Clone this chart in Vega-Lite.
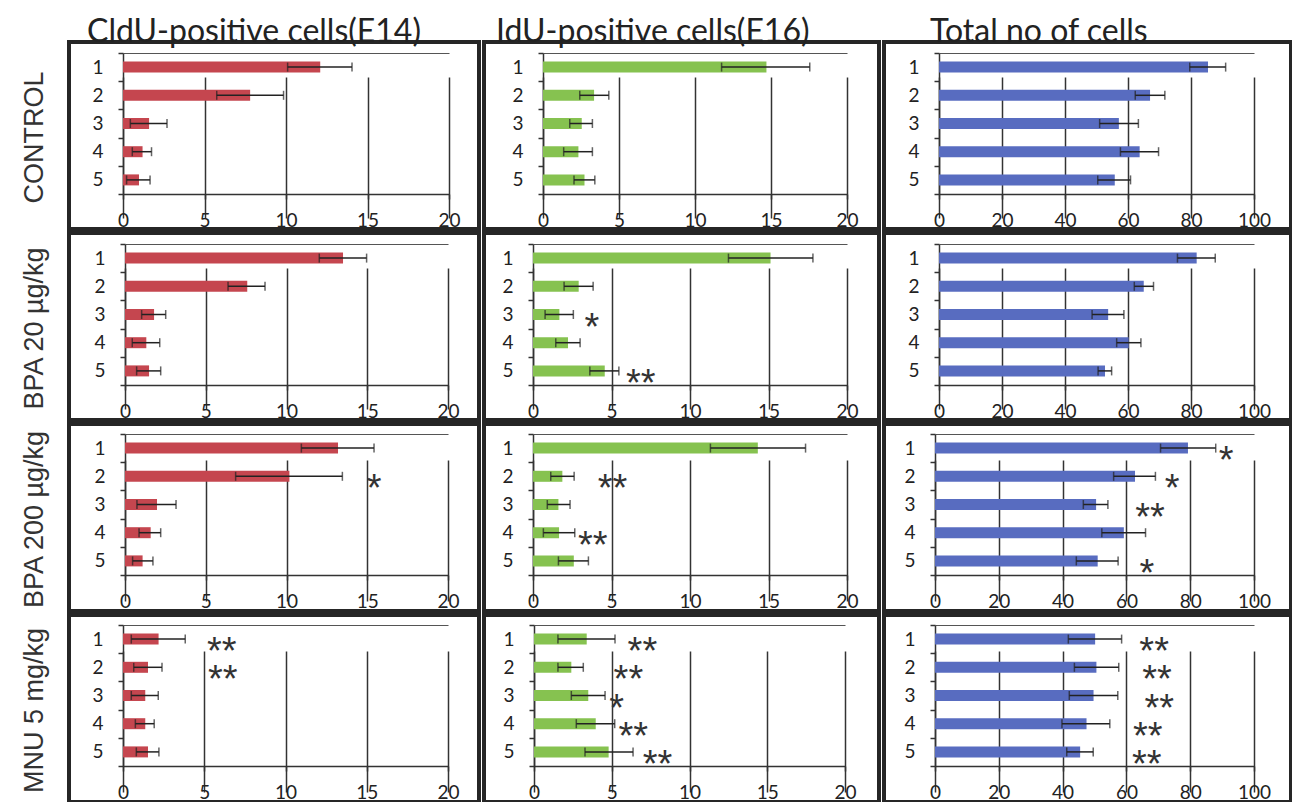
{
"$schema": "https://vega.github.io/schema/vega-lite/v6.json",
"padding": {"left": 17, "top": 14, "right": 0, "bottom": 0},
"bounds": "flush",
"columns": 3,
"spacing": {"row": 4, "column": 5},
"config": {
 "view": {"stroke": "#262626", "strokeWidth": 4},
 "axis": {"labelFont": "Lato", "labelFontSize": 19, "labelColor": "#222", "domainColor": "#333", "domainWidth": 1.5, "tickColor": "#333", "tickWidth": 1.5, "gridColor": "#333", "gridWidth": 1.5, "gridOpacity": 1},
 "title": {"font": "Lato", "fontSize": 32, "fontWeight": "normal", "color": "#222", "anchor": "start", "frame": "group", "offset": -16, "baseline": "alphabetic"}
},
"datasets": {"d": [
{"g":"CONTROL","m":"CldU","c":1,"v":12.1,"lo":10.1,"hi":14.05,"s":"","sx":0},
{"g":"CONTROL","m":"CldU","c":2,"v":7.8,"lo":5.75,"hi":9.85,"s":"","sx":0},
{"g":"CONTROL","m":"CldU","c":3,"v":1.6,"lo":0.45,"hi":2.7,"s":"","sx":0},
{"g":"CONTROL","m":"CldU","c":4,"v":1.2,"lo":0.57,"hi":1.75,"s":"","sx":0},
{"g":"CONTROL","m":"CldU","c":5,"v":0.98,"lo":0.22,"hi":1.66,"s":"","sx":0},
{"g":"CONTROL","m":"IdU","c":1,"v":14.7,"lo":11.75,"hi":17.55,"s":"","sx":0},
{"g":"CONTROL","m":"IdU","c":2,"v":3.36,"lo":2.42,"hi":4.33,"s":"","sx":0},
{"g":"CONTROL","m":"IdU","c":3,"v":2.55,"lo":1.76,"hi":3.25,"s":"","sx":0},
{"g":"CONTROL","m":"IdU","c":4,"v":2.33,"lo":1.36,"hi":3.25,"s":"","sx":0},
{"g":"CONTROL","m":"IdU","c":5,"v":2.73,"lo":2.04,"hi":3.41,"s":"","sx":0},
{"g":"CONTROL","m":"Total","c":1,"v":85.4,"lo":79.6,"hi":91.0,"s":"","sx":0},
{"g":"CONTROL","m":"Total","c":2,"v":67.0,"lo":62.3,"hi":71.7,"s":"","sx":0},
{"g":"CONTROL","m":"Total","c":3,"v":57.1,"lo":51.0,"hi":63.3,"s":"","sx":0},
{"g":"CONTROL","m":"Total","c":4,"v":63.7,"lo":57.6,"hi":69.7,"s":"","sx":0},
{"g":"CONTROL","m":"Total","c":5,"v":55.8,"lo":50.4,"hi":60.8,"s":"","sx":0},
{"g":"BPA20","m":"CldU","c":1,"v":13.5,"lo":12.03,"hi":14.96,"s":"","sx":0},
{"g":"BPA20","m":"CldU","c":2,"v":7.57,"lo":6.38,"hi":8.67,"s":"","sx":0},
{"g":"BPA20","m":"CldU","c":3,"v":1.8,"lo":1.03,"hi":2.52,"s":"","sx":0},
{"g":"BPA20","m":"CldU","c":4,"v":1.32,"lo":0.45,"hi":2.15,"s":"","sx":0},
{"g":"BPA20","m":"CldU","c":5,"v":1.49,"lo":0.72,"hi":2.21,"s":"","sx":0},
{"g":"BPA20","m":"IdU","c":1,"v":15.13,"lo":12.45,"hi":17.83,"s":"","sx":0},
{"g":"BPA20","m":"IdU","c":2,"v":2.91,"lo":1.98,"hi":3.83,"s":"","sx":0},
{"g":"BPA20","m":"IdU","c":3,"v":1.68,"lo":0.77,"hi":2.57,"s":"*","sx":3.75},
{"g":"BPA20","m":"IdU","c":4,"v":2.23,"lo":1.45,"hi":3.0,"s":"","sx":0},
{"g":"BPA20","m":"IdU","c":5,"v":4.57,"lo":3.62,"hi":5.47,"s":"**","sx":6.87},
{"g":"BPA20","m":"Total","c":1,"v":81.8,"lo":75.7,"hi":87.7,"s":"","sx":0},
{"g":"BPA20","m":"Total","c":2,"v":65.0,"lo":62.0,"hi":68.1,"s":"","sx":0},
{"g":"BPA20","m":"Total","c":3,"v":53.7,"lo":48.6,"hi":58.7,"s":"","sx":0},
{"g":"BPA20","m":"Total","c":4,"v":60.2,"lo":56.4,"hi":64.1,"s":"","sx":0},
{"g":"BPA20","m":"Total","c":5,"v":52.7,"lo":50.5,"hi":54.8,"s":"","sx":0},
{"g":"BPA200","m":"CldU","c":1,"v":13.19,"lo":10.92,"hi":15.42,"s":"","sx":0},
{"g":"BPA200","m":"CldU","c":2,"v":10.18,"lo":6.85,"hi":13.46,"s":"*","sx":15.42},
{"g":"BPA200","m":"CldU","c":3,"v":1.98,"lo":0.74,"hi":3.16,"s":"","sx":0},
{"g":"BPA200","m":"CldU","c":4,"v":1.59,"lo":0.87,"hi":2.21,"s":"","sx":0},
{"g":"BPA200","m":"CldU","c":5,"v":1.09,"lo":0.47,"hi":1.73,"s":"","sx":0},
{"g":"BPA200","m":"IdU","c":1,"v":14.32,"lo":11.3,"hi":17.36,"s":"","sx":0},
{"g":"BPA200","m":"IdU","c":2,"v":1.87,"lo":1.13,"hi":2.62,"s":"**","sx":5.07},
{"g":"BPA200","m":"IdU","c":3,"v":1.62,"lo":0.91,"hi":2.36,"s":"","sx":0},
{"g":"BPA200","m":"IdU","c":4,"v":1.66,"lo":0.66,"hi":2.66,"s":"**","sx":3.81},
{"g":"BPA200","m":"IdU","c":5,"v":2.6,"lo":1.62,"hi":3.53,"s":"","sx":0},
{"g":"BPA200","m":"Total","c":1,"v":79.3,"lo":70.7,"hi":88.0,"s":"*","sx":91.3},
{"g":"BPA200","m":"Total","c":2,"v":62.7,"lo":56.0,"hi":69.1,"s":"*","sx":74.3},
{"g":"BPA200","m":"Total","c":3,"v":50.5,"lo":46.5,"hi":54.2,"s":"**","sx":67.4},
{"g":"BPA200","m":"Total","c":4,"v":59.2,"lo":52.3,"hi":66.0,"s":"","sx":0},
{"g":"BPA200","m":"Total","c":5,"v":51.0,"lo":44.3,"hi":57.4,"s":"*","sx":66.4},
{"g":"MNU","m":"CldU","c":1,"v":2.19,"lo":0.51,"hi":3.83,"s":"**","sx":6.08},
{"g":"MNU","m":"CldU","c":2,"v":1.54,"lo":0.66,"hi":2.4,"s":"**","sx":6.14},
{"g":"MNU","m":"CldU","c":3,"v":1.37,"lo":0.51,"hi":2.17,"s":"","sx":0},
{"g":"MNU","m":"CldU","c":4,"v":1.37,"lo":0.76,"hi":1.92,"s":"","sx":0},
{"g":"MNU","m":"CldU","c":5,"v":1.54,"lo":0.82,"hi":2.21,"s":"","sx":0},
{"g":"MNU","m":"IdU","c":1,"v":3.39,"lo":1.54,"hi":5.21,"s":"**","sx":6.97},
{"g":"MNU","m":"IdU","c":2,"v":2.4,"lo":1.54,"hi":3.17,"s":"**","sx":6.07},
{"g":"MNU","m":"IdU","c":3,"v":3.49,"lo":2.4,"hi":4.57,"s":"*","sx":5.32},
{"g":"MNU","m":"IdU","c":4,"v":3.97,"lo":2.72,"hi":5.19,"s":"**","sx":6.39},
{"g":"MNU","m":"IdU","c":5,"v":4.8,"lo":3.28,"hi":6.37,"s":"**","sx":7.94},
{"g":"MNU","m":"Total","c":1,"v":50.2,"lo":41.8,"hi":58.5,"s":"**","sx":68.7},
{"g":"MNU","m":"Total","c":2,"v":50.6,"lo":43.7,"hi":57.6,"s":"**","sx":69.6},
{"g":"MNU","m":"Total","c":3,"v":49.7,"lo":42.1,"hi":57.3,"s":"**","sx":70.3},
{"g":"MNU","m":"Total","c":4,"v":47.5,"lo":39.8,"hi":54.8,"s":"**","sx":66.7},
{"g":"MNU","m":"Total","c":5,"v":45.5,"lo":41.3,"hi":49.6,"s":"**","sx":66.4}
]},
"concat": [
 {"width": 410, "height": 187, "data": {"name": "d"}, "transform": [{"filter": "datum.g=='CONTROL' && datum.m=='CldU'"}],
  "title": {"text": "CldU-positive cells(E14)", "dx": 18},
  "encoding": {"y": {"field": "c", "type": "ordinal", "scale": {"range": [11, 152], "paddingInner": 0, "paddingOuter": 0}, "axis": {"offset": -54, "tickBand": "extent", "tickSize": 5, "labelPadding": 15, "labelAngle": 0, "grid": false, "title": "CONTROL", "titleX": -89, "titleY": 95, "titleAngle": -90, "titleFont": "Liberation Sans", "titleFontSize": 27, "titleFontWeight": "normal", "titleColor": "#333", "titleAlign": "center", "titleBaseline": "middle"}}},
  "layer": [
   {"mark": {"type": "bar", "size": 11, "color": "#c5464f"}, "encoding": {"x": {"field": "v", "type": "quantitative", "scale": {"domain": [0, 20], "range": [54, 380], "nice": false}, "axis": {"values": [0,5,10,15,20], "offset": -35, "grid": true, "tickSize": 5, "labelPadding": 12, "labelFlush": false, "title": null}}}},
   {"mark": {"type": "rule", "color": "#222", "strokeWidth": 1.5}, "encoding": {"x": {"field": "lo", "type": "quantitative", "axis": {"orient": "top", "offset": -11, "labels": false, "ticks": false, "grid": false, "title": null, "domainColor": "#555", "domainWidth": 1.2}}, "x2": {"field": "hi"}}},
   {"mark": {"type": "tick", "color": "#222", "thickness": 1.5, "size": 9}, "encoding": {"x": {"field": "lo", "type": "quantitative", "axis": null}}},
   {"mark": {"type": "tick", "color": "#222", "thickness": 1.5, "size": 9}, "encoding": {"x": {"field": "hi", "type": "quantitative", "axis": null}}},
   {"transform": [{"filter": "datum.s != ''"}], "mark": {"type": "text", "font": "Liberation Sans", "fontSize": 38, "baseline": "alphabetic", "dy": 25, "align": "center", "color": "#333"}, "encoding": {"x": {"field": "sx", "type": "quantitative", "axis": null}, "text": {"field": "s"}}}
  ],
  "resolve": {"axis": {"x": "independent"}}},
 {"width": 395, "height": 187, "data": {"name": "d"}, "transform": [{"filter": "datum.g=='CONTROL' && datum.m=='IdU'"}],
  "title": {"text": "IdU-positive cells(E16)", "dx": 12},
  "encoding": {"y": {"field": "c", "type": "ordinal", "scale": {"range": [11, 152], "paddingInner": 0, "paddingOuter": 0}, "axis": {"offset": -59, "tickBand": "extent", "tickSize": 5, "labelPadding": 15, "labelAngle": 0, "grid": false, "title": null}}},
  "layer": [
   {"mark": {"type": "bar", "size": 11, "color": "#86c250"}, "encoding": {"x": {"field": "v", "type": "quantitative", "scale": {"domain": [0, 20], "range": [59, 363], "nice": false}, "axis": {"values": [0,5,10,15,20], "offset": -35, "grid": true, "tickSize": 5, "labelPadding": 12, "labelFlush": false, "title": null}}}},
   {"mark": {"type": "rule", "color": "#222", "strokeWidth": 1.5}, "encoding": {"x": {"field": "lo", "type": "quantitative", "axis": {"orient": "top", "offset": -11, "labels": false, "ticks": false, "grid": false, "title": null, "domainColor": "#555", "domainWidth": 1.2}}, "x2": {"field": "hi"}}},
   {"mark": {"type": "tick", "color": "#222", "thickness": 1.5, "size": 9}, "encoding": {"x": {"field": "lo", "type": "quantitative", "axis": null}}},
   {"mark": {"type": "tick", "color": "#222", "thickness": 1.5, "size": 9}, "encoding": {"x": {"field": "hi", "type": "quantitative", "axis": null}}},
   {"transform": [{"filter": "datum.s != ''"}], "mark": {"type": "text", "font": "Liberation Sans", "fontSize": 38, "baseline": "alphabetic", "dy": 25, "align": "center", "color": "#333"}, "encoding": {"x": {"field": "sx", "type": "quantitative", "axis": null}, "text": {"field": "s"}}}
  ],
  "resolve": {"axis": {"x": "independent"}}},
 {"width": 407, "height": 187, "data": {"name": "d"}, "transform": [{"filter": "datum.g=='CONTROL' && datum.m=='Total'"}],
  "title": {"text": "Total no of cells", "dx": 46},
  "encoding": {"y": {"field": "c", "type": "ordinal", "scale": {"range": [11, 152], "paddingInner": 0, "paddingOuter": 0}, "axis": {"offset": -55, "tickBand": "extent", "tickSize": 5, "labelPadding": 15, "labelAngle": 0, "grid": false, "title": null}}},
  "layer": [
   {"mark": {"type": "bar", "size": 11, "color": "#586cc0"}, "encoding": {"x": {"field": "v", "type": "quantitative", "scale": {"domain": [0, 100], "range": [55, 370], "nice": false}, "axis": {"values": [0,20,40,60,80,100], "offset": -35, "grid": true, "tickSize": 5, "labelPadding": 12, "labelFlush": false, "title": null}}}},
   {"mark": {"type": "rule", "color": "#222", "strokeWidth": 1.5}, "encoding": {"x": {"field": "lo", "type": "quantitative", "axis": {"orient": "top", "offset": -11, "labels": false, "ticks": false, "grid": false, "title": null, "domainColor": "#555", "domainWidth": 1.2}}, "x2": {"field": "hi"}}},
   {"mark": {"type": "tick", "color": "#222", "thickness": 1.5, "size": 9}, "encoding": {"x": {"field": "lo", "type": "quantitative", "axis": null}}},
   {"mark": {"type": "tick", "color": "#222", "thickness": 1.5, "size": 9}, "encoding": {"x": {"field": "hi", "type": "quantitative", "axis": null}}},
   {"transform": [{"filter": "datum.s != ''"}], "mark": {"type": "text", "font": "Liberation Sans", "fontSize": 38, "baseline": "alphabetic", "dy": 25, "align": "center", "color": "#333"}, "encoding": {"x": {"field": "sx", "type": "quantitative", "axis": null}, "text": {"field": "s"}}}
  ],
  "resolve": {"axis": {"x": "independent"}}},
 {"width": 410, "height": 187, "data": {"name": "d"}, "transform": [{"filter": "datum.g=='BPA20' && datum.m=='CldU'"}],
  "encoding": {"y": {"field": "c", "type": "ordinal", "scale": {"range": [11, 152], "paddingInner": 0, "paddingOuter": 0}, "axis": {"offset": -56, "tickBand": "extent", "tickSize": 5, "labelPadding": 15, "labelAngle": 0, "grid": false, "title": "BPA 20 µg/kg", "titleX": -91, "titleY": 95, "titleAngle": -90, "titleFont": "Liberation Sans", "titleFontSize": 27, "titleFontWeight": "normal", "titleColor": "#333", "titleAlign": "center", "titleBaseline": "middle"}}},
  "layer": [
   {"mark": {"type": "bar", "size": 11, "color": "#c5464f"}, "encoding": {"x": {"field": "v", "type": "quantitative", "scale": {"domain": [0, 20], "range": [56, 379], "nice": false}, "axis": {"values": [0,5,10,15,20], "offset": -35, "grid": true, "tickSize": 5, "labelPadding": 12, "labelFlush": false, "title": null}}}},
   {"mark": {"type": "rule", "color": "#222", "strokeWidth": 1.5}, "encoding": {"x": {"field": "lo", "type": "quantitative", "axis": {"orient": "top", "offset": -11, "labels": false, "ticks": false, "grid": false, "title": null, "domainColor": "#555", "domainWidth": 1.2}}, "x2": {"field": "hi"}}},
   {"mark": {"type": "tick", "color": "#222", "thickness": 1.5, "size": 9}, "encoding": {"x": {"field": "lo", "type": "quantitative", "axis": null}}},
   {"mark": {"type": "tick", "color": "#222", "thickness": 1.5, "size": 9}, "encoding": {"x": {"field": "hi", "type": "quantitative", "axis": null}}},
   {"transform": [{"filter": "datum.s != ''"}], "mark": {"type": "text", "font": "Liberation Sans", "fontSize": 38, "baseline": "alphabetic", "dy": 25, "align": "center", "color": "#333"}, "encoding": {"x": {"field": "sx", "type": "quantitative", "axis": null}, "text": {"field": "s"}}}
  ],
  "resolve": {"axis": {"x": "independent"}}},
 {"width": 395, "height": 187, "data": {"name": "d"}, "transform": [{"filter": "datum.g=='BPA20' && datum.m=='IdU'"}],
  "encoding": {"y": {"field": "c", "type": "ordinal", "scale": {"range": [11, 152], "paddingInner": 0, "paddingOuter": 0}, "axis": {"offset": -49, "tickBand": "extent", "tickSize": 5, "labelPadding": 15, "labelAngle": 0, "grid": false, "title": null}}},
  "layer": [
   {"mark": {"type": "bar", "size": 11, "color": "#86c250"}, "encoding": {"x": {"field": "v", "type": "quantitative", "scale": {"domain": [0, 20], "range": [49, 363], "nice": false}, "axis": {"values": [0,5,10,15,20], "offset": -35, "grid": true, "tickSize": 5, "labelPadding": 12, "labelFlush": false, "title": null}}}},
   {"mark": {"type": "rule", "color": "#222", "strokeWidth": 1.5}, "encoding": {"x": {"field": "lo", "type": "quantitative", "axis": {"orient": "top", "offset": -11, "labels": false, "ticks": false, "grid": false, "title": null, "domainColor": "#555", "domainWidth": 1.2}}, "x2": {"field": "hi"}}},
   {"mark": {"type": "tick", "color": "#222", "thickness": 1.5, "size": 9}, "encoding": {"x": {"field": "lo", "type": "quantitative", "axis": null}}},
   {"mark": {"type": "tick", "color": "#222", "thickness": 1.5, "size": 9}, "encoding": {"x": {"field": "hi", "type": "quantitative", "axis": null}}},
   {"transform": [{"filter": "datum.s != ''"}], "mark": {"type": "text", "font": "Liberation Sans", "fontSize": 38, "baseline": "alphabetic", "dy": 25, "align": "center", "color": "#333"}, "encoding": {"x": {"field": "sx", "type": "quantitative", "axis": null}, "text": {"field": "s"}}}
  ],
  "resolve": {"axis": {"x": "independent"}}},
 {"width": 407, "height": 187, "data": {"name": "d"}, "transform": [{"filter": "datum.g=='BPA20' && datum.m=='Total'"}],
  "encoding": {"y": {"field": "c", "type": "ordinal", "scale": {"range": [11, 152], "paddingInner": 0, "paddingOuter": 0}, "axis": {"offset": -55, "tickBand": "extent", "tickSize": 5, "labelPadding": 15, "labelAngle": 0, "grid": false, "title": null}}},
  "layer": [
   {"mark": {"type": "bar", "size": 11, "color": "#586cc0"}, "encoding": {"x": {"field": "v", "type": "quantitative", "scale": {"domain": [0, 100], "range": [55, 370], "nice": false}, "axis": {"values": [0,20,40,60,80,100], "offset": -35, "grid": true, "tickSize": 5, "labelPadding": 12, "labelFlush": false, "title": null}}}},
   {"mark": {"type": "rule", "color": "#222", "strokeWidth": 1.5}, "encoding": {"x": {"field": "lo", "type": "quantitative", "axis": {"orient": "top", "offset": -11, "labels": false, "ticks": false, "grid": false, "title": null, "domainColor": "#555", "domainWidth": 1.2}}, "x2": {"field": "hi"}}},
   {"mark": {"type": "tick", "color": "#222", "thickness": 1.5, "size": 9}, "encoding": {"x": {"field": "lo", "type": "quantitative", "axis": null}}},
   {"mark": {"type": "tick", "color": "#222", "thickness": 1.5, "size": 9}, "encoding": {"x": {"field": "hi", "type": "quantitative", "axis": null}}},
   {"transform": [{"filter": "datum.s != ''"}], "mark": {"type": "text", "font": "Liberation Sans", "fontSize": 38, "baseline": "alphabetic", "dy": 25, "align": "center", "color": "#333"}, "encoding": {"x": {"field": "sx", "type": "quantitative", "axis": null}, "text": {"field": "s"}}}
  ],
  "resolve": {"axis": {"x": "independent"}}},
 {"width": 410, "height": 187, "data": {"name": "d"}, "transform": [{"filter": "datum.g=='BPA200' && datum.m=='CldU'"}],
  "encoding": {"y": {"field": "c", "type": "ordinal", "scale": {"range": [10, 151], "paddingInner": 0, "paddingOuter": 0}, "axis": {"offset": -56, "tickBand": "extent", "tickSize": 5, "labelPadding": 15, "labelAngle": 0, "grid": false, "title": "BPA 200 µg/kg", "titleX": -91, "titleY": 95, "titleAngle": -90, "titleFont": "Liberation Sans", "titleFontSize": 27, "titleFontWeight": "normal", "titleColor": "#333", "titleAlign": "center", "titleBaseline": "middle"}}},
  "layer": [
   {"mark": {"type": "bar", "size": 11, "color": "#c5464f"}, "encoding": {"x": {"field": "v", "type": "quantitative", "scale": {"domain": [0, 20], "range": [56, 379], "nice": false}, "axis": {"values": [0,5,10,15,20], "offset": -36, "grid": true, "tickSize": 5, "labelPadding": 12, "labelFlush": false, "title": null}}}},
   {"mark": {"type": "rule", "color": "#222", "strokeWidth": 1.5}, "encoding": {"x": {"field": "lo", "type": "quantitative", "axis": {"orient": "top", "offset": -10, "labels": false, "ticks": false, "grid": false, "title": null, "domainColor": "#555", "domainWidth": 1.2}}, "x2": {"field": "hi"}}},
   {"mark": {"type": "tick", "color": "#222", "thickness": 1.5, "size": 9}, "encoding": {"x": {"field": "lo", "type": "quantitative", "axis": null}}},
   {"mark": {"type": "tick", "color": "#222", "thickness": 1.5, "size": 9}, "encoding": {"x": {"field": "hi", "type": "quantitative", "axis": null}}},
   {"transform": [{"filter": "datum.s != ''"}], "mark": {"type": "text", "font": "Liberation Sans", "fontSize": 38, "baseline": "alphabetic", "dy": 25, "align": "center", "color": "#333"}, "encoding": {"x": {"field": "sx", "type": "quantitative", "axis": null}, "text": {"field": "s"}}}
  ],
  "resolve": {"axis": {"x": "independent"}}},
 {"width": 395, "height": 187, "data": {"name": "d"}, "transform": [{"filter": "datum.g=='BPA200' && datum.m=='IdU'"}],
  "encoding": {"y": {"field": "c", "type": "ordinal", "scale": {"range": [10, 151], "paddingInner": 0, "paddingOuter": 0}, "axis": {"offset": -49, "tickBand": "extent", "tickSize": 5, "labelPadding": 15, "labelAngle": 0, "grid": false, "title": null}}},
  "layer": [
   {"mark": {"type": "bar", "size": 11, "color": "#86c250"}, "encoding": {"x": {"field": "v", "type": "quantitative", "scale": {"domain": [0, 20], "range": [49, 363], "nice": false}, "axis": {"values": [0,5,10,15,20], "offset": -36, "grid": true, "tickSize": 5, "labelPadding": 12, "labelFlush": false, "title": null}}}},
   {"mark": {"type": "rule", "color": "#222", "strokeWidth": 1.5}, "encoding": {"x": {"field": "lo", "type": "quantitative", "axis": {"orient": "top", "offset": -10, "labels": false, "ticks": false, "grid": false, "title": null, "domainColor": "#555", "domainWidth": 1.2}}, "x2": {"field": "hi"}}},
   {"mark": {"type": "tick", "color": "#222", "thickness": 1.5, "size": 9}, "encoding": {"x": {"field": "lo", "type": "quantitative", "axis": null}}},
   {"mark": {"type": "tick", "color": "#222", "thickness": 1.5, "size": 9}, "encoding": {"x": {"field": "hi", "type": "quantitative", "axis": null}}},
   {"transform": [{"filter": "datum.s != ''"}], "mark": {"type": "text", "font": "Liberation Sans", "fontSize": 38, "baseline": "alphabetic", "dy": 25, "align": "center", "color": "#333"}, "encoding": {"x": {"field": "sx", "type": "quantitative", "axis": null}, "text": {"field": "s"}}}
  ],
  "resolve": {"axis": {"x": "independent"}}},
 {"width": 407, "height": 187, "data": {"name": "d"}, "transform": [{"filter": "datum.g=='BPA200' && datum.m=='Total'"}],
  "encoding": {"y": {"field": "c", "type": "ordinal", "scale": {"range": [10, 151], "paddingInner": 0, "paddingOuter": 0}, "axis": {"offset": -51, "tickBand": "extent", "tickSize": 5, "labelPadding": 15, "labelAngle": 0, "grid": false, "title": null}}},
  "layer": [
   {"mark": {"type": "bar", "size": 11, "color": "#586cc0"}, "encoding": {"x": {"field": "v", "type": "quantitative", "scale": {"domain": [0, 100], "range": [51, 370], "nice": false}, "axis": {"values": [0,20,40,60,80,100], "offset": -36, "grid": true, "tickSize": 5, "labelPadding": 12, "labelFlush": false, "title": null}}}},
   {"mark": {"type": "rule", "color": "#222", "strokeWidth": 1.5}, "encoding": {"x": {"field": "lo", "type": "quantitative", "axis": {"orient": "top", "offset": -10, "labels": false, "ticks": false, "grid": false, "title": null, "domainColor": "#555", "domainWidth": 1.2}}, "x2": {"field": "hi"}}},
   {"mark": {"type": "tick", "color": "#222", "thickness": 1.5, "size": 9}, "encoding": {"x": {"field": "lo", "type": "quantitative", "axis": null}}},
   {"mark": {"type": "tick", "color": "#222", "thickness": 1.5, "size": 9}, "encoding": {"x": {"field": "hi", "type": "quantitative", "axis": null}}},
   {"transform": [{"filter": "datum.s != ''"}], "mark": {"type": "text", "font": "Liberation Sans", "fontSize": 38, "baseline": "alphabetic", "dy": 25, "align": "center", "color": "#333"}, "encoding": {"x": {"field": "sx", "type": "quantitative", "axis": null}, "text": {"field": "s"}}}
  ],
  "resolve": {"axis": {"x": "independent"}}},
 {"width": 410, "height": 187, "data": {"name": "d"}, "transform": [{"filter": "datum.g=='MNU' && datum.m=='CldU'"}],
  "encoding": {"y": {"field": "c", "type": "ordinal", "scale": {"range": [10, 151], "paddingInner": 0, "paddingOuter": 0}, "axis": {"offset": -54, "tickBand": "extent", "tickSize": 5, "labelPadding": 15, "labelAngle": 0, "grid": false, "title": "MNU 5 mg/kg", "titleX": -89, "titleY": 95, "titleAngle": -90, "titleFont": "Liberation Sans", "titleFontSize": 27, "titleFontWeight": "normal", "titleColor": "#333", "titleAlign": "center", "titleBaseline": "middle"}}},
  "layer": [
   {"mark": {"type": "bar", "size": 11, "color": "#c5464f"}, "encoding": {"x": {"field": "v", "type": "quantitative", "scale": {"domain": [0, 20], "range": [54, 379], "nice": false}, "axis": {"values": [0,5,10,15,20], "offset": -36, "grid": true, "tickSize": 5, "labelPadding": 12, "labelFlush": false, "title": null}}}},
   {"mark": {"type": "rule", "color": "#222", "strokeWidth": 1.5}, "encoding": {"x": {"field": "lo", "type": "quantitative", "axis": {"orient": "top", "offset": -10, "labels": false, "ticks": false, "grid": false, "title": null, "domainColor": "#555", "domainWidth": 1.2}}, "x2": {"field": "hi"}}},
   {"mark": {"type": "tick", "color": "#222", "thickness": 1.5, "size": 9}, "encoding": {"x": {"field": "lo", "type": "quantitative", "axis": null}}},
   {"mark": {"type": "tick", "color": "#222", "thickness": 1.5, "size": 9}, "encoding": {"x": {"field": "hi", "type": "quantitative", "axis": null}}},
   {"transform": [{"filter": "datum.s != ''"}], "mark": {"type": "text", "font": "Liberation Sans", "fontSize": 38, "baseline": "alphabetic", "dy": 25, "align": "center", "color": "#333"}, "encoding": {"x": {"field": "sx", "type": "quantitative", "axis": null}, "text": {"field": "s"}}}
  ],
  "resolve": {"axis": {"x": "independent"}}},
 {"width": 395, "height": 187, "data": {"name": "d"}, "transform": [{"filter": "datum.g=='MNU' && datum.m=='IdU'"}],
  "encoding": {"y": {"field": "c", "type": "ordinal", "scale": {"range": [10, 151], "paddingInner": 0, "paddingOuter": 0}, "axis": {"offset": -50, "tickBand": "extent", "tickSize": 5, "labelPadding": 15, "labelAngle": 0, "grid": false, "title": null}}},
  "layer": [
   {"mark": {"type": "bar", "size": 11, "color": "#86c250"}, "encoding": {"x": {"field": "v", "type": "quantitative", "scale": {"domain": [0, 20], "range": [50, 361], "nice": false}, "axis": {"values": [0,5,10,15,20], "offset": -36, "grid": true, "tickSize": 5, "labelPadding": 12, "labelFlush": false, "title": null}}}},
   {"mark": {"type": "rule", "color": "#222", "strokeWidth": 1.5}, "encoding": {"x": {"field": "lo", "type": "quantitative", "axis": {"orient": "top", "offset": -10, "labels": false, "ticks": false, "grid": false, "title": null, "domainColor": "#555", "domainWidth": 1.2}}, "x2": {"field": "hi"}}},
   {"mark": {"type": "tick", "color": "#222", "thickness": 1.5, "size": 9}, "encoding": {"x": {"field": "lo", "type": "quantitative", "axis": null}}},
   {"mark": {"type": "tick", "color": "#222", "thickness": 1.5, "size": 9}, "encoding": {"x": {"field": "hi", "type": "quantitative", "axis": null}}},
   {"transform": [{"filter": "datum.s != ''"}], "mark": {"type": "text", "font": "Liberation Sans", "fontSize": 38, "baseline": "alphabetic", "dy": 25, "align": "center", "color": "#333"}, "encoding": {"x": {"field": "sx", "type": "quantitative", "axis": null}, "text": {"field": "s"}}}
  ],
  "resolve": {"axis": {"x": "independent"}}},
 {"width": 407, "height": 187, "data": {"name": "d"}, "transform": [{"filter": "datum.g=='MNU' && datum.m=='Total'"}],
  "encoding": {"y": {"field": "c", "type": "ordinal", "scale": {"range": [10, 151], "paddingInner": 0, "paddingOuter": 0}, "axis": {"offset": -51, "tickBand": "extent", "tickSize": 5, "labelPadding": 15, "labelAngle": 0, "grid": false, "title": null}}},
  "layer": [
   {"mark": {"type": "bar", "size": 11, "color": "#586cc0"}, "encoding": {"x": {"field": "v", "type": "quantitative", "scale": {"domain": [0, 100], "range": [51, 370], "nice": false}, "axis": {"values": [0,20,40,60,80,100], "offset": -36, "grid": true, "tickSize": 5, "labelPadding": 12, "labelFlush": false, "title": null}}}},
   {"mark": {"type": "rule", "color": "#222", "strokeWidth": 1.5}, "encoding": {"x": {"field": "lo", "type": "quantitative", "axis": {"orient": "top", "offset": -10, "labels": false, "ticks": false, "grid": false, "title": null, "domainColor": "#555", "domainWidth": 1.2}}, "x2": {"field": "hi"}}},
   {"mark": {"type": "tick", "color": "#222", "thickness": 1.5, "size": 9}, "encoding": {"x": {"field": "lo", "type": "quantitative", "axis": null}}},
   {"mark": {"type": "tick", "color": "#222", "thickness": 1.5, "size": 9}, "encoding": {"x": {"field": "hi", "type": "quantitative", "axis": null}}},
   {"transform": [{"filter": "datum.s != ''"}], "mark": {"type": "text", "font": "Liberation Sans", "fontSize": 38, "baseline": "alphabetic", "dy": 25, "align": "center", "color": "#333"}, "encoding": {"x": {"field": "sx", "type": "quantitative", "axis": null}, "text": {"field": "s"}}}
  ],
  "resolve": {"axis": {"x": "independent"}}}
]
}
